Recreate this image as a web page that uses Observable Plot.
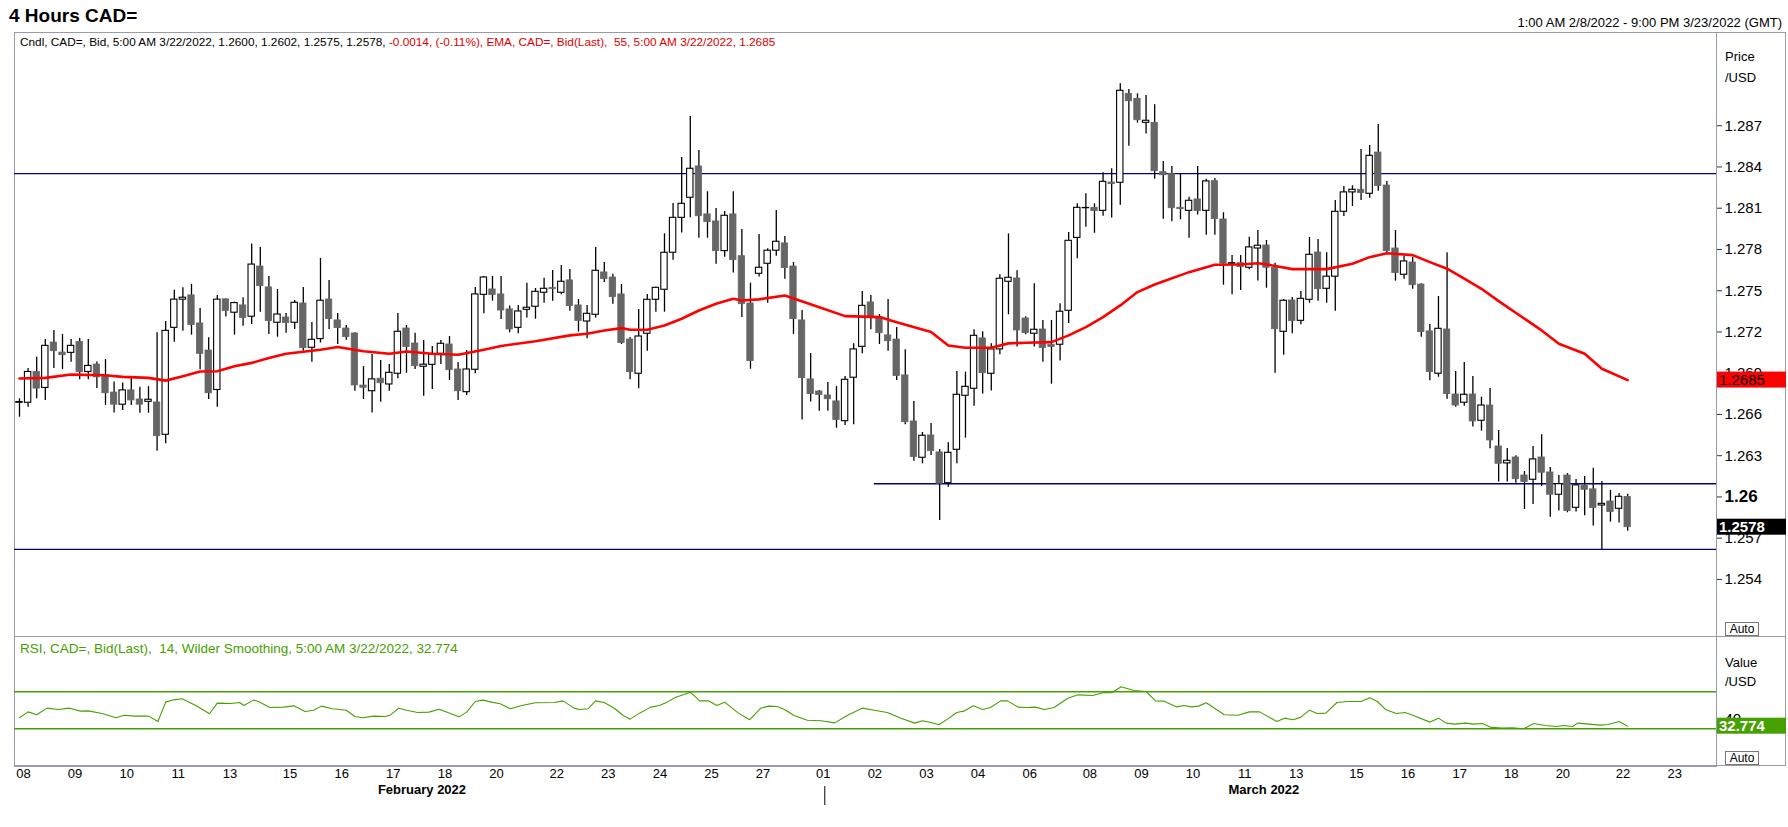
<!DOCTYPE html>
<html><head><meta charset="utf-8">
<script src="https://cdn.jsdelivr.net/npm/d3@7"></script>
<script src="https://cdn.jsdelivr.net/npm/@observablehq/plot@0.6"></script>
<style>
body{margin:0;background:#fff;font-family:"Liberation Sans",Arial,sans-serif;}
#root{position:relative;width:1788px;height:827px;overflow:hidden;background:#fff;}
.abs{position:absolute;white-space:nowrap;line-height:1;}
</style></head><body><div id="root"></div>
<script>
// ---- data (4-hour bars, index 0 = 1:00 AM 2/8/2022) ----
const barOpen=[1.26685,1.26685,1.26909,1.26793,1.27123,1.27050,1.27048,1.27128,1.26909,1.26963,1.26875,1.26759,1.26671,1.26775,1.26709,1.26692,1.26687,1.26452,1.27230,1.27435,1.27466,1.27262,1.27065,1.26778,1.27437,1.27340,1.27393,1.27311,1.27676,1.27524,1.27267,1.27305,1.27267,1.27407,1.27085,1.27148,1.27436,1.27284,1.27225,1.27189,1.26810,1.26769,1.26860,1.26818,1.26896,1.27225,1.27116,1.26947,1.26961,1.27041,1.27109,1.26927,1.26762,1.26925,1.27470,1.27509,1.27473,1.27364,1.27230,1.27361,1.27383,1.27485,1.27521,1.27485,1.27575,1.27393,1.27276,1.27325,1.27633,1.27596,1.27473,1.27145,1.26896,1.27187,1.27434,1.27507,1.27776,1.28030,1.28176,1.28404,1.28055,1.28004,1.27788,1.28055,1.27751,1.27407,1.27623,1.27696,1.27791,1.27844,1.27676,1.27284,1.26855,1.26767,1.26738,1.26695,1.26551,1.26867,1.27092,1.27415,1.27308,1.27175,1.27145,1.26884,1.26549,1.26285,1.26447,1.26324,1.26100,1.26343,1.26736,1.26787,1.27153,1.26896,1.27073,1.27565,1.27589,1.27298,1.27187,1.27218,1.27107,1.27107,1.27354,1.27884,1.28100,1.28103,1.28081,1.28287,1.28285,1.28932,1.28896,1.28721,1.28721,1.28362,1.28348,1.28103,1.28081,1.28164,1.28081,1.28297,1.28018,1.27696,1.27700,1.27667,1.27807,1.27829,1.27667,1.27201,1.27429,1.27281,1.27434,1.27778,1.27514,1.27602,1.28074,1.28215,1.28234,1.28205,1.28505,1.28265,1.27807,1.27616,1.27705,1.27545,1.27204,1.26896,1.27218,1.26745,1.26685,1.26745,1.26554,1.26665,1.26367,1.26244,1.26287,1.26156,1.26125,1.26287,1.26178,1.26016,1.26156,1.25921,1.26084,1.26055,1.25938,1.25967,1.25914,1.26000];
const barHigh=[1.26714,1.26934,1.27016,1.27145,1.27211,1.27182,1.27145,1.27152,1.27145,1.26982,1.27000,1.26836,1.26829,1.26861,1.26797,1.26802,1.27194,1.27276,1.27503,1.27522,1.27546,1.27371,1.27157,1.27466,1.27440,1.27417,1.27449,1.27840,1.27815,1.27604,1.27509,1.27335,1.27429,1.27524,1.27269,1.27735,1.27575,1.27335,1.27247,1.27195,1.26949,1.27036,1.26993,1.26964,1.27335,1.27247,1.27191,1.27138,1.27095,1.27138,1.27167,1.26978,1.27065,1.27524,1.27604,1.27604,1.27604,1.27388,1.27393,1.27555,1.27516,1.27591,1.27647,1.27684,1.27655,1.27436,1.27393,1.27815,1.27705,1.27620,1.27545,1.27160,1.27364,1.27473,1.27525,1.27914,1.28135,1.28469,1.28767,1.28520,1.28220,1.28098,1.28076,1.28220,1.27945,1.27555,1.27909,1.27805,1.28084,1.27895,1.27705,1.27356,1.27044,1.26775,1.26833,1.26804,1.26876,1.27114,1.27495,1.27465,1.27327,1.27436,1.27233,1.27070,1.26695,1.26469,1.26535,1.26345,1.26394,1.26913,1.26908,1.27216,1.27201,1.27114,1.27616,1.27913,1.27645,1.27310,1.27550,1.27284,1.27284,1.27405,1.27924,1.28132,1.28205,1.28132,1.28358,1.28387,1.29005,1.28964,1.28932,1.28920,1.28852,1.28440,1.28404,1.28348,1.28180,1.28404,1.28311,1.28316,1.28067,1.27756,1.27756,1.27889,1.27938,1.27865,1.27700,1.27436,1.27450,1.27495,1.27887,1.27873,1.27776,1.28156,1.28258,1.28263,1.28527,1.28556,1.28709,1.28295,1.27938,1.27751,1.27744,1.27550,1.27255,1.27458,1.27776,1.26913,1.26978,1.26876,1.26726,1.26789,1.26484,1.26353,1.26300,1.26185,1.26367,1.26452,1.26215,1.26156,1.26170,1.26127,1.26149,1.26209,1.26113,1.26047,1.26025,1.26020];
const barLow=[1.26580,1.26653,1.26714,1.26702,1.26934,1.26926,1.26980,1.26853,1.26853,1.26788,1.26665,1.26610,1.26629,1.26665,1.26609,1.26609,1.26333,1.26387,1.27126,1.27206,1.27177,1.26926,1.26709,1.26653,1.27308,1.27177,1.27242,1.27255,1.27344,1.27182,1.27162,1.27191,1.27218,1.27060,1.26980,1.27120,1.27218,1.27109,1.27140,1.26769,1.26709,1.26610,1.26689,1.26769,1.26860,1.26900,1.26927,1.26733,1.26782,1.26964,1.26847,1.26702,1.26738,1.26896,1.27332,1.27424,1.27291,1.27194,1.27187,1.27301,1.27293,1.27409,1.27424,1.27470,1.27351,1.27199,1.27150,1.27301,1.27560,1.27402,1.27109,1.26852,1.26787,1.27060,1.27344,1.27344,1.27722,1.27919,1.28030,1.27882,1.27882,1.27693,1.27744,1.27628,1.27305,1.26929,1.27600,1.27409,1.27751,1.27584,1.27182,1.26559,1.26690,1.26624,1.26624,1.26500,1.26520,1.26525,1.27041,1.27216,1.27109,1.27060,1.26847,1.26525,1.26260,1.26241,1.26302,1.25829,1.26071,1.26241,1.26428,1.26660,1.26748,1.26770,1.27034,1.27325,1.27090,1.27180,1.27090,1.26980,1.26820,1.26988,1.27262,1.27732,1.27962,1.27918,1.28042,1.28028,1.28122,1.28551,1.28719,1.28639,1.28311,1.28020,1.28001,1.28016,1.27882,1.28050,1.27904,1.27904,1.27540,1.27471,1.27502,1.27652,1.27570,1.27518,1.26900,1.27031,1.27187,1.27252,1.27409,1.27424,1.27409,1.27351,1.28040,1.28113,1.28156,1.28173,1.28224,1.27770,1.27570,1.27584,1.27511,1.27162,1.26845,1.26871,1.26711,1.26653,1.26660,1.26508,1.26479,1.26350,1.26108,1.26108,1.26100,1.25909,1.25945,1.26076,1.25853,1.25897,1.25885,1.25890,1.25863,1.25788,1.25618,1.25817,1.25810,1.25750];
const barClose=[1.26690,1.26909,1.26788,1.27099,1.27060,1.27031,1.27099,1.26907,1.26953,1.26870,1.26754,1.26671,1.26775,1.26702,1.26671,1.26707,1.26442,1.27208,1.27435,1.27449,1.27250,1.27041,1.26754,1.27435,1.27352,1.27410,1.27301,1.27690,1.27533,1.27279,1.27327,1.27264,1.27412,1.27082,1.27143,1.27427,1.27293,1.27228,1.27162,1.26811,1.26794,1.26855,1.26827,1.26903,1.27201,1.27090,1.26951,1.26962,1.27036,1.27114,1.26922,1.26769,1.26927,1.27473,1.27596,1.27468,1.27356,1.27218,1.27349,1.27376,1.27492,1.27514,1.27511,1.27565,1.27388,1.27279,1.27332,1.27645,1.27584,1.27453,1.27119,1.26908,1.27167,1.27434,1.27521,1.27776,1.28030,1.28132,1.28387,1.28042,1.27999,1.27788,1.28045,1.27722,1.27402,1.26988,1.27667,1.27791,1.27856,1.27664,1.27293,1.26864,1.26748,1.26741,1.26711,1.26559,1.26852,1.27073,1.27390,1.27308,1.27191,1.27133,1.26879,1.26544,1.26290,1.26445,1.26333,1.26096,1.26321,1.26743,1.26801,1.27172,1.26900,1.27073,1.27587,1.27594,1.27211,1.27191,1.27216,1.27082,1.27090,1.27347,1.27863,1.28103,1.28102,1.28079,1.28292,1.28275,1.28954,1.28878,1.28740,1.28736,1.28369,1.28340,1.28100,1.28093,1.28154,1.28079,1.28295,1.28020,1.27696,1.27700,1.27671,1.27815,1.27827,1.27667,1.27220,1.27427,1.27279,1.27441,1.27761,1.27511,1.27602,1.28074,1.28215,1.28234,1.28210,1.28481,1.28261,1.27788,1.27628,1.27713,1.27540,1.27199,1.26908,1.27223,1.26748,1.26665,1.26743,1.26549,1.26665,1.26411,1.26241,1.26263,1.26129,1.26108,1.26273,1.26176,1.26016,1.26093,1.25897,1.26084,1.26052,1.25919,1.25950,1.25890,1.26001,1.25780];

// EMA(55): bar index -> value
const emaBars=[0,3,6,10,12,15,17,19,21,23,25,27,29,31,35,37,40,43,45,48,51,54,56,60,64,66,68,70,71,73,75,77,79,81,83,84,86,89,93,96,100,102,106,108,110,113,115,117,120,122,124,126,128,130,132,136,139,142,144,145,148,152,155,157,159,162,164,166,168,170,172,177,179,182,184,187];
const emaValues=[1.26861,1.26866,1.26890,1.26885,1.26873,1.26866,1.26846,1.26878,1.26912,1.26914,1.26950,1.26975,1.27010,1.27041,1.27071,1.27090,1.27060,1.27041,1.27058,1.27041,1.27034,1.27071,1.27098,1.27133,1.27175,1.27187,1.27211,1.27228,1.27216,1.27216,1.27247,1.27296,1.27356,1.27405,1.27441,1.27429,1.27437,1.27465,1.27380,1.27315,1.27308,1.27271,1.27199,1.27102,1.27085,1.27085,1.27117,1.27121,1.27126,1.27175,1.27235,1.27308,1.27393,1.27490,1.27545,1.27635,1.27689,1.27691,1.27700,1.27692,1.27657,1.27657,1.27696,1.27744,1.27773,1.27759,1.27708,1.27660,1.27587,1.27514,1.27424,1.27211,1.27114,1.27041,1.26932,1.26850];

// RSI(14): bar position -> value
const rsiBars=[0,1.0,2.0,3.2,4.5,5.8,7.1,8.0,9.6,11.2,12.2,13.4,15.0,16.1,17.0,17.9,18.9,20.5,22.1,23.0,24.6,25.6,26.1,27.2,27.8,29.1,30.7,31.9,33.2,34.2,35.1,36.4,38.0,39.0,39.9,41.2,42.5,43.1,44.1,45.0,46.3,47.6,48.8,49.8,51.1,52.0,53.0,53.9,54.9,55.9,57.1,58.4,60.0,62.2,63.2,64.5,65.1,66.1,67.0,68.0,69.2,70.2,71.0,72.1,73.4,74.4,75.3,76.3,77.2,78.0,79.1,80.1,81.1,82.0,83.6,84.9,86.2,87.1,88.1,89.0,90.0,91.6,93.2,94.8,96.4,98.0,99.4,100.9,102.5,104.1,105.0,106.0,106.9,107.9,109.0,109.9,110.9,112.0,112.9,114.1,114.9,116.1,117.1,118.1,119.2,120.3,121.9,123.1,124.8,126.1,127.0,128.1,129.6,131.0,132.1,133.1,134.5,135.4,136.3,137.1,138.0,140.1,141.7,143.0,144.2,146.2,147.1,148.1,149.0,150.0,150.9,151.9,153.2,154.4,156.0,157.0,157.9,158.9,160.1,161.1,162.1,164.0,165.0,165.9,166.9,168.1,169.1,170.1,171.0,172.3,173.6,174.9,176.1,177.4,178.7,179.6,180.6,181.2,182.5,183.8,184.7,186.0,187.0];
const rsiValues=[41.9,48.3,45.1,52.3,50.9,52.3,49.1,49.4,46.5,41.9,44.7,43.7,43.7,37.9,58.8,61.3,62.4,55.2,46.2,57.7,57.4,58.4,55.2,61.0,59.5,53.0,53.4,54.8,48.7,50.1,54.5,51.6,50.1,43.3,41.9,43.7,43.3,44.7,52.3,50.1,47.6,48.0,51.2,47.6,42.9,48.0,59.5,61.0,58.8,57.0,51.6,55.2,58.1,58.4,60.2,52.3,50.9,51.6,60.2,58.4,51.9,44.4,40.4,46.9,53.4,55.2,58.8,64.2,66.7,69.6,60.2,60.2,55.2,58.8,46.9,39.7,52.3,54.5,54.1,50.5,44.7,39.3,38.6,36.4,45.1,52.3,50.1,47.6,41.5,36.1,38.6,36.8,34.3,40.4,47.6,49.4,54.8,50.9,53.0,60.2,60.2,53.4,53.0,53.4,50.9,53.0,63.1,66.7,66.0,69.2,68.9,75.4,71.4,70.3,60.2,59.9,53.7,55.2,53.7,54.5,58.1,45.1,44.7,48.3,48.3,37.9,41.5,39.7,42.6,50.1,46.5,46.9,58.4,59.5,59.5,63.5,59.5,50.5,46.5,47.6,44.4,37.2,41.5,36.1,35.0,36.1,35.0,35.7,31.8,30.7,31.0,30.0,35.7,33.6,32.5,33.6,32.5,36.1,35.0,33.9,34.6,37.9,32.774];

// drawn horizontal levels
const levelValues=[1.28351,1.26096,1.25618];
const levelStarts=[null,99.4,null];
const rsiLevels=[70,30];

// axis labels
const priceTicks=[1.254,1.257,1.26,1.263,1.266,1.269,1.272,1.275,1.278,1.281,1.284,1.287];
const dayLabels=["08","09","10","11","13","15","16","17","18","20","22","23","24","25","27","01","02","03","04","06","08","09","10","11","13","15","16","17","18","20","22","23"];
const dayBars=[0,6,12,18,24,31,37,43,49,55,62,68,74,80,86,93,99,105,111,117,124,130,136,142,148,155,161,167,173,179,186,192];
const monthLabels=["February 2022","March 2022"];
const monthCenters=[46.8,144.7];
const monthTickBar=93.7;
const lastEma=1.2685, lastClose=1.2578, lastRsi=32.774;

// ---- layout ----
const root=document.getElementById("root");
const W=1788, FONT="Liberation Sans, Arial, sans-serif";
const xDomain=[-0.581,197.33];
const GRID="#9a9aa8", GREEN="#46a000";

function div(html, css){const d=document.createElement("div");d.className="abs";d.innerHTML=html;Object.assign(d.style,css);root.appendChild(d);return d;}

// outer border and divider
div("",{left:"14px",top:"32px",width:"1772px",height:"734px",border:"1px solid "+GRID,boxSizing:"border-box"});
div("",{left:"14px",top:"636px",width:"1772px",height:"1px",background:GRID});

const bars=barClose.map((c,i)=>({i,open:barOpen[i],high:barHigh[i],low:barLow[i],close:c}));
const up=bars.filter(d=>d.close>=d.open), down=bars.filter(d=>d.close<d.open);
const half=0.37;
const ema=emaBars.map((b,k)=>({b,v:emaValues[k]}));
const levels=levelValues.map((v,k)=>({v,start:levelStarts[k]==null?xDomain[0]:levelStarts[k]}));

const pricePlot=Plot.plot({
  width:W,height:604,marginLeft:14,marginRight:W-1716,marginTop:0,marginBottom:0,
  x:{domain:xDomain,axis:null},
  y:{domain:[1.24985,1.29378],axis:null},
  style:{fontFamily:FONT,background:"transparent",overflow:"visible"},
  marks:[
    Plot.frame({stroke:GRID}),
    Plot.ruleY(levels,{y:"v",x1:"start",x2:xDomain[1],stroke:"#000080",strokeWidth:1.3}),
    Plot.ruleX(bars,{x:"i",y1:"low",y2:"high",stroke:"#000",strokeWidth:1.3}),
    Plot.rect(up,{x1:d=>d.i-half,x2:d=>d.i+half,y1:"open",y2:"close",fill:"#fff",stroke:"#000",strokeWidth:1.1}),
    Plot.rect(down,{x1:d=>d.i-half,x2:d=>d.i+half,y1:"open",y2:"close",fill:"#666",stroke:"#666",strokeWidth:0.8}),
    Plot.line(ema,{x:"b",y:"v",stroke:"#ff0000",strokeWidth:2.6}),
    Plot.axisY({anchor:"right",ticks:priceTicks,tickSize:5,tickPadding:3,fontSize:15,stroke:"#333",color:"#000",
      tickFormat:d=>Math.abs(d-1.26)<1e-9?"":d3.format(".3f")(d),label:null}),
    Plot.text([1.26],{x:xDomain[1],y:d=>d,text:d=>"1.26",dx:8,textAnchor:"start",fontWeight:"bold",fontSize:17,fill:"#000"})
  ]
});
pricePlot.style.position="absolute";pricePlot.style.left="0px";pricePlot.style.top="32px";
root.appendChild(pricePlot);

// value boxes on the right axis (positioned with the plot's y scale)
function valueBox(svgEl, ys, v, bg, fg, weight, label){
  const svg=d3.select(svgEl), y=ys.apply(v);
  svg.append("rect").attr("x",1717).attr("y",y-8).attr("width",69).attr("height",16).attr("fill",bg);
  svg.append("text").attr("x",1719).attr("y",y).attr("dy","0.36em").attr("fill",fg).attr("text-anchor","start")
    .attr("font-size",15).attr("font-weight",weight).attr("font-family",FONT).text(label);
}
valueBox(pricePlot, pricePlot.scale("y"), lastEma, "#ff0000", "#000", "normal", d3.format(".4f")(lastEma));
valueBox(pricePlot, pricePlot.scale("y"), lastClose, "#000", "#fff", "bold", d3.format(".4f")(lastClose));

const rsi=rsiBars.map((b,k)=>({b,v:rsiValues[k]}));
const dayData=dayBars.map((b,k)=>({b,t:dayLabels[k]}));
const monthData=monthCenters.map((b,k)=>({b,t:monthLabels[k]}));
const rsiPlot=Plot.plot({
  width:W,height:192,marginLeft:14,marginRight:W-1716,marginTop:0,marginBottom:62,
  x:{domain:xDomain,axis:null},
  y:{domain:[-10.8,129.8],axis:null},
  style:{fontFamily:FONT,background:"transparent",overflow:"visible"},
  marks:[
    Plot.frame({stroke:GRID}),
    Plot.ruleY(rsiLevels,{stroke:GREEN,strokeWidth:1.6}),
    Plot.line(rsi,{x:"b",y:"v",stroke:GREEN,strokeWidth:1.1}),
    Plot.axisY({anchor:"right",ticks:[40],tickSize:5,tickPadding:3,fontSize:15,stroke:"#333",color:"#000",tickFormat:d3.format("d"),label:null}),
    Plot.text(dayData,{x:"b",text:"t",frameAnchor:"bottom",dy:11,dx:4,fontSize:13,fill:"#000"}),
    Plot.text(monthData,{x:"b",text:"t",frameAnchor:"bottom",dy:27,fontSize:13,fontWeight:"bold",fill:"#000"})
  ]
});
rsiPlot.style.position="absolute";rsiPlot.style.left="0px";rsiPlot.style.top="636px";
root.appendChild(rsiPlot);
{
  const xs=rsiPlot.scale("x"), svg=d3.select(rsiPlot);
  const mx=xs.apply(monthTickBar);
  svg.append("line").attr("x1",mx).attr("x2",mx).attr("y1",150).attr("y2",169).attr("stroke","#000").attr("stroke-width",1);
}
valueBox(rsiPlot, rsiPlot.scale("y"), lastRsi, GREEN, "#fff", "bold", d3.format(".3f")(lastRsi));

// texts
div("4 Hours CAD=",{left:"9px",top:"6px",fontSize:"19px",fontWeight:"bold",color:"#000"});
div("1:00 AM 2/8/2022 - 9:00 PM 3/23/2022 (GMT)",{right:"6px",top:"16px",fontSize:"13px",color:"#000"});
div('Cndl, CAD=, Bid, 5:00 AM 3/22/2022, 1.2600, 1.2602, 1.2575, 1.2578, <span style="color:#e00000">-0.0014, (-0.11%), EMA, CAD=, Bid(Last),&nbsp; 55, 5:00 AM 3/22/2022, 1.2685</span>',
  {left:"20px",top:"37px",fontSize:"11.8px",color:"#000"});
div("RSI, CAD=, Bid(Last),&nbsp; 14, Wilder Smoothing, 5:00 AM 3/22/2022, 32.774",{left:"20px",top:"642px",fontSize:"13.5px",color:GREEN});
div("Price",{left:"1725px",top:"50px",fontSize:"13px",color:"#000"});
div("/USD",{left:"1725px",top:"71px",fontSize:"13px",color:"#000"});
div("Value",{left:"1725px",top:"656px",fontSize:"13px",color:"#000"});
div("/USD",{left:"1725px",top:"675px",fontSize:"13px",color:"#000"});
const autoCss={width:"34px",height:"14px",border:"1px solid #777",boxSizing:"border-box",fontSize:"12px",textAlign:"center",lineHeight:"12px",color:"#000",background:"#fff"};
div("Auto",Object.assign({left:"1725px",top:"622px"},autoCss));
div("Auto",Object.assign({left:"1725px",top:"751px"},autoCss));
</script></body></html>
